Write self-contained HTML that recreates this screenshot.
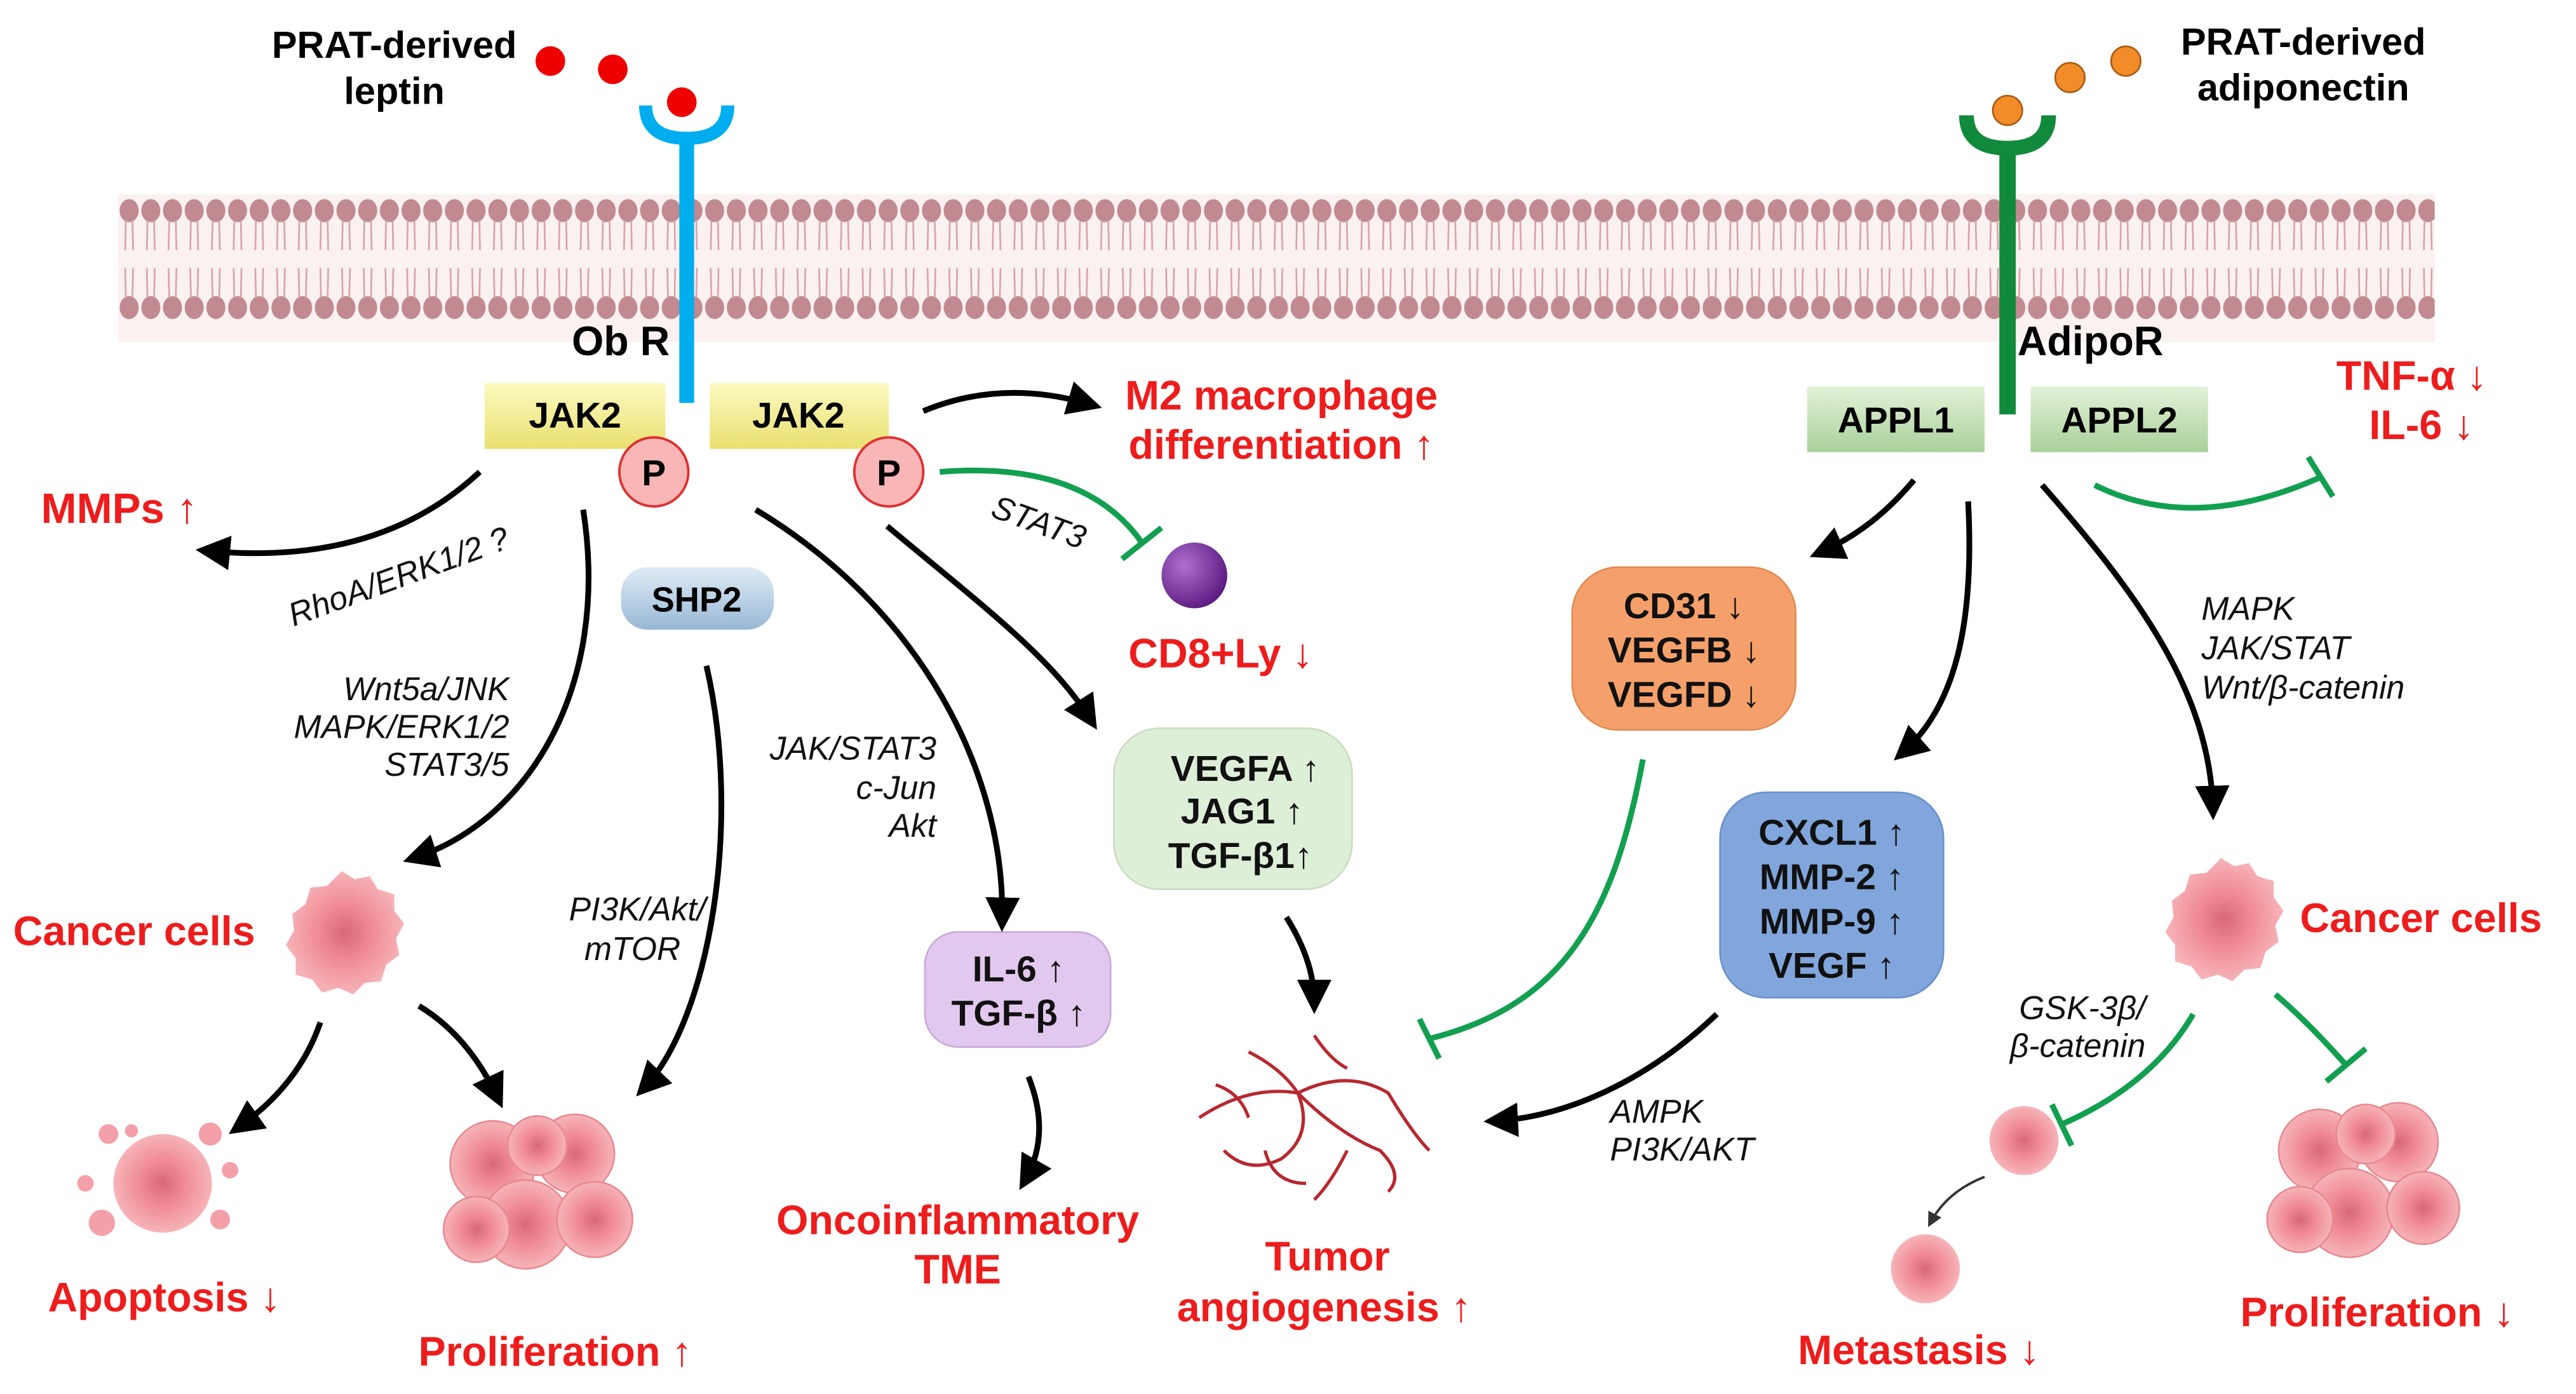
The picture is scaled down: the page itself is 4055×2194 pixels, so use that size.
<!DOCTYPE html>
<html><head><meta charset="utf-8"><style>
html,body{margin:0;padding:0;background:#fff;}
svg{display:block;}
text{font-family:"Liberation Sans",Arial,sans-serif;}
.b{font-weight:bold;}
.r{fill:#ee1c1c;font-weight:bold;font-size:25px;}
.i{font-style:italic;font-size:20px;fill:#111;}
.bk{font-weight:bold;font-size:22px;fill:#111;}
</style></head><body>
<svg width="4055" height="2194" viewBox="0 0 1568 848" xmlns="http://www.w3.org/2000/svg">
<defs>
<marker id="ah" markerWidth="6" markerHeight="6" refX="4" refY="3" orient="auto" markerUnits="strokeWidth">
<path d="M0,0 L6,3 L0,6 z" fill="#000"/></marker>
<marker id="ahs" markerWidth="6" markerHeight="6" refX="4" refY="3" orient="auto" markerUnits="strokeWidth">
<path d="M0,0 L6,3 L0,6 z" fill="#333"/></marker>
<linearGradient id="yel" x1="0" y1="0" x2="0" y2="1"><stop offset="0" stop-color="#fbf9c0"/><stop offset="1" stop-color="#eae070"/></linearGradient>
<linearGradient id="grn" x1="0" y1="0" x2="0" y2="1"><stop offset="0" stop-color="#e4f2d8"/><stop offset="1" stop-color="#a8d09a"/></linearGradient>
<linearGradient id="shp" x1="0" y1="0" x2="0" y2="1"><stop offset="0" stop-color="#e0ecf6"/><stop offset="1" stop-color="#98b8d6"/></linearGradient>
<radialGradient id="pur" cx="0.35" cy="0.35" r="0.7"><stop offset="0" stop-color="#b070d0"/><stop offset="1" stop-color="#5a1a80"/></radialGradient>
<radialGradient id="cell" cx="0.5" cy="0.5" r="0.5"><stop offset="0" stop-color="#d86878"/><stop offset="0.45" stop-color="#f08a94"/><stop offset="1" stop-color="#f6b4b8"/></radialGradient>
<pattern id="lip" x="72" y="0" width="13.2" height="848" patternUnits="userSpaceOnUse">
<ellipse cx="6.6" cy="128" rx="5.8" ry="7" fill="#c08a90"/>
<ellipse cx="6.6" cy="187" rx="5.8" ry="7" fill="#c08a90"/>
<path d="M4.6,134 L4.2,152 M8.6,134 L9,152 M4.2,163 L4.6,181 M9,163 L8.6,181" stroke="#d8a0a6" stroke-width="1" fill="none"/>
</pattern>
</defs>
<rect width="1568" height="848" fill="#fff"/>
<rect x="72" y="118" width="1410" height="90" fill="#fbf1f0"/>
<rect x="72" y="118" width="1410" height="80" fill="url(#lip)"/>

<text x="240" y="35" text-anchor="middle" class="b" font-size="23">PRAT-derived</text>
<text x="240" y="63" text-anchor="middle" class="b" font-size="23">leptin</text>
<circle cx="335" cy="37" r="9" fill="#e00"/><circle cx="373" cy="42" r="9" fill="#e00"/><circle cx="415" cy="62" r="9" fill="#e00"/>
<path d="M393,64 Q393,84 418,84 Q443,84 443,64" stroke="#00aeef" stroke-width="8" fill="none"/>
<line x1="418" y1="84" x2="418" y2="245" stroke="#00aeef" stroke-width="9"/>
<text x="348" y="216" class="b" font-size="25">Ob R</text>

<text x="1402" y="33" text-anchor="middle" class="b" font-size="23">PRAT-derived</text>
<text x="1402" y="61" text-anchor="middle" class="b" font-size="23">adiponectin</text>
<circle cx="1222" cy="67" r="9" fill="#f28c28" stroke="#a85a10" stroke-width="1"/><circle cx="1260" cy="47" r="9" fill="#f28c28" stroke="#a85a10" stroke-width="1"/><circle cx="1294" cy="37" r="9" fill="#f28c28" stroke="#a85a10" stroke-width="1"/>
<path d="M1197,70 Q1197,90 1222,90 Q1247,90 1247,70" stroke="#128a3c" stroke-width="9" fill="none"/>
<line x1="1222" y1="90" x2="1222" y2="252" stroke="#128a3c" stroke-width="10"/>
<text x="1228" y="216" class="b" font-size="25">AdipoR</text>

<rect x="295" y="233" width="110" height="40" fill="url(#yel)"/>
<text x="350" y="260" text-anchor="middle" class="b" font-size="22">JAK2</text>
<rect x="432" y="233" width="109" height="40" fill="url(#yel)"/>
<text x="486" y="260" text-anchor="middle" class="b" font-size="22">JAK2</text>
<circle cx="398" cy="287" r="21" fill="#f8b6b6" stroke="#e03030" stroke-width="1.5"/>
<text x="398" y="295" text-anchor="middle" class="b" font-size="22">P</text>
<circle cx="541" cy="287" r="21" fill="#f8b6b6" stroke="#e03030" stroke-width="1.5"/>
<text x="541" y="295" text-anchor="middle" class="b" font-size="22">P</text>

<rect x="1100" y="235" width="108" height="40" fill="url(#grn)"/>
<text x="1154" y="263" text-anchor="middle" class="b" font-size="22">APPL1</text>
<rect x="1236" y="235" width="108" height="40" fill="url(#grn)"/>
<text x="1290" y="263" text-anchor="middle" class="b" font-size="22">APPL2</text>

<rect x="378" y="345" width="93" height="38" rx="16" fill="url(#shp)"/>
<text x="424" y="372" text-anchor="middle" class="b" font-size="21">SHP2</text>
<rect x="678" y="443" width="145" height="98" rx="28" fill="#deefd8" stroke="#c8dcc0"/>
<text x="758" y="475" text-anchor="middle" class="bk">VEGFA ↑</text>
<text x="756" y="501" text-anchor="middle" class="bk">JAG1 ↑</text>
<text x="755" y="528" text-anchor="middle" class="bk">TGF-β1↑</text>
<rect x="563" y="567" width="113" height="70" rx="20" fill="#e2c8ee" stroke="#c8a8da"/>
<text x="620" y="597" text-anchor="middle" class="bk">IL-6 ↑</text>
<text x="620" y="624" text-anchor="middle" class="bk">TGF-β ↑</text>
<rect x="957" y="345" width="136" height="99" rx="28" fill="#f5a06a" stroke="#e08a50"/>
<text x="1025" y="376" text-anchor="middle" class="bk">CD31 ↓</text>
<text x="1025" y="403" text-anchor="middle" class="bk">VEGFB ↓</text>
<text x="1025" y="430" text-anchor="middle" class="bk">VEGFD ↓</text>
<rect x="1047" y="482" width="136" height="125" rx="28" fill="#80a6dc" stroke="#6890c8"/>
<text x="1115" y="514" text-anchor="middle" class="bk">CXCL1 ↑</text>
<text x="1115" y="541" text-anchor="middle" class="bk">MMP-2 ↑</text>
<text x="1115" y="568" text-anchor="middle" class="bk">MMP-9 ↑</text>
<text x="1115" y="595" text-anchor="middle" class="bk">VEGF ↑</text>

<circle cx="727" cy="350" r="20" fill="url(#pur)"/>

<text x="25" y="318" font-family="Liberation Serif,serif" fill="#ee1c1c" font-weight="bold" font-size="26">MMPs ↑</text>
<text x="780" y="249" text-anchor="middle" class="r">M2 macrophage</text>
<text x="780" y="279" text-anchor="middle" class="r">differentiation ↑</text>
<text x="743" y="406" text-anchor="middle" class="r">CD8+Ly ↓</text>
<text x="1468" y="237" text-anchor="middle" class="r">TNF-α ↓</text>
<text x="1474" y="267" text-anchor="middle" class="r">IL-6 ↓</text>
<text x="8" y="575" class="r">Cancer cells</text>
<text x="100" y="798" text-anchor="middle" class="r">Apoptosis ↓</text>
<text x="338" y="831" text-anchor="middle" class="r">Proliferation ↑</text>
<text x="583" y="751" text-anchor="middle" class="r">Oncoinflammatory</text>
<text x="583" y="781" text-anchor="middle" class="r">TME</text>
<text x="808" y="773" text-anchor="middle" class="r">Tumor</text>
<text x="806" y="804" text-anchor="middle" class="r">angiogenesis ↑</text>
<text x="1400" y="567" class="r">Cancer cells</text>
<text x="1168" y="830" text-anchor="middle" class="r">Metastasis ↓</text>
<text x="1447" y="807" text-anchor="middle" class="r">Proliferation ↓</text>

<text x="245" y="357" text-anchor="middle" class="i" transform="rotate(-20 245 357)">RhoA/ERK1/2 ?</text>
<text x="310" y="426" text-anchor="end" class="i">Wnt5a/JNK</text>
<text x="310" y="449" text-anchor="end" class="i">MAPK/ERK1/2</text>
<text x="310" y="472" text-anchor="end" class="i">STAT3/5</text>
<text x="388" y="560" text-anchor="middle" class="i">PI3K/Akt/</text>
<text x="385" y="584" text-anchor="middle" class="i">mTOR</text>
<text x="570" y="462" text-anchor="end" class="i">JAK/STAT3</text>
<text x="570" y="486" text-anchor="end" class="i">c-Jun</text>
<text x="570" y="509" text-anchor="end" class="i">Akt</text>
<text x="630" y="324" text-anchor="middle" class="i" transform="rotate(20 630 324)">STAT3</text>
<text x="1340" y="377" class="i">MAPK</text>
<text x="1340" y="401" class="i">JAK/STAT</text>
<text x="1340" y="425" class="i">Wnt/β-catenin</text>
<text x="980" y="683" class="i">AMPK</text>
<text x="980" y="706" class="i">PI3K/AKT</text>
<text x="1306" y="620" text-anchor="end" class="i">GSK-3β/</text>
<text x="1306" y="643" text-anchor="end" class="i">β-catenin</text>

<g stroke="#000" stroke-width="3.5" fill="none" marker-end="url(#ah)">
<path d="M292,287 Q230,345 126,335"/>
<path d="M355,310 C372,420 320,500 252,522"/>
<path d="M460,310 C560,370 612,470 610,560"/>
<path d="M540,320 C600,370 640,400 664,438"/>
<path d="M562,250 Q610,230 664,246"/>
<path d="M430,405 C452,500 432,620 392,662"/>
<path d="M195,622 Q182,660 145,686"/>
<path d="M255,612 Q285,630 303,668"/>
<path d="M626,655 Q640,690 624,718"/>
<path d="M783,558 Q800,585 800,610"/>
<path d="M1045,617 C1000,660 950,680 910,682"/>
<path d="M1165,292 Q1140,322 1108,336"/>
<path d="M1198,305 C1202,380 1190,430 1158,458"/>
<path d="M1243,295 C1300,360 1345,420 1347,492"/>
</g>
<path d="M1208,716 Q1185,725 1175,744" stroke="#333" stroke-width="1.5" fill="none" marker-end="url(#ahs)"/>

<g stroke="#12a050" stroke-width="3.5" fill="none">
<path d="M572,287 Q660,280 695,330"/><path d="M683,340 L707,321"/>
<path d="M1000,462 C982,560 950,612 870,632"/><path d="M864,620 L876,644"/>
<path d="M1275,295 Q1335,325 1413,290"/><path d="M1405,278 L1420,302"/>
<path d="M1335,617 Q1310,660 1255,684"/><path d="M1249,672 L1261,697"/>
<path d="M1385,605 Q1405,622 1428,648"/><path d="M1416,658 L1440,638"/>
</g>

<g fill="url(#cell)">
<path d="M208,530 l8,5 9,-2 5,8 10,3 0,10 6,8 -5,9 2,10 -8,6 -3,10 -10,1 -7,7 -9,-4 -10,3 -6,-8 -10,-3 0,-10 -6,-8 5,-9 -1,-10 8,-6 3,-10 10,-1 z"/>
<path d="M1352,522 l8,5 9,-2 5,8 10,3 0,10 6,8 -5,9 2,10 -8,6 -3,10 -10,1 -7,7 -9,-4 -10,3 -6,-8 -10,-3 0,-10 -6,-8 5,-9 -1,-10 8,-6 3,-10 10,-1 z"/>
<circle cx="1232" cy="694" r="21"/>
<circle cx="1172" cy="772" r="21"/>
<circle cx="99" cy="720" r="30"/>
</g>
<g fill="#f4a0a8">
<circle cx="66" cy="690" r="6"/><circle cx="128" cy="690" r="7"/><circle cx="134" cy="742" r="6"/><circle cx="62" cy="744" r="8"/><circle cx="80" cy="688" r="4"/><circle cx="52" cy="720" r="5"/><circle cx="140" cy="712" r="5"/>
</g>
<g fill="url(#cell)" stroke="#e88890" stroke-width="1">
<circle cx="300" cy="708" r="26"/><circle cx="350" cy="702" r="24"/><circle cx="320" cy="745" r="27"/><circle cx="362" cy="742" r="23"/><circle cx="290" cy="748" r="20"/><circle cx="327" cy="697" r="18"/>
<circle cx="1412" cy="700" r="25"/><circle cx="1460" cy="695" r="24"/><circle cx="1430" cy="738" r="27"/><circle cx="1475" cy="735" r="22"/><circle cx="1400" cy="742" r="20"/><circle cx="1440" cy="690" r="18"/>
</g>
<g stroke="#b82830" stroke-width="2" fill="none">
<path d="M730,680 Q760,660 790,665 Q820,650 845,665 Q860,690 870,700"/>
<path d="M760,640 Q780,650 790,665 Q800,690 780,705 Q760,715 745,700"/>
<path d="M800,630 Q810,645 820,650"/>
<path d="M790,665 Q815,690 840,700 Q855,715 845,725"/>
<path d="M740,660 Q755,665 760,680"/>
<path d="M820,700 Q810,720 800,730"/>
<path d="M770,700 Q775,720 795,720"/>
</g>
</svg>
</body></html>
